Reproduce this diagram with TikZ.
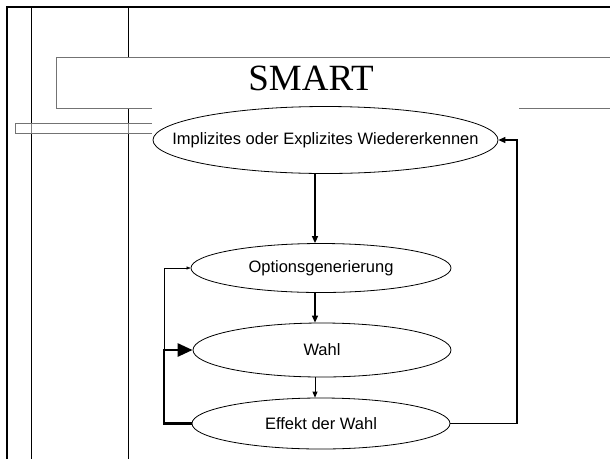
\documentclass[tikz,border=0pt]{standalone}
\usepackage{fontspec}
\setmainfont{Liberation Sans}
\newfontfamily\titelfont{Liberation Serif}
\usetikzlibrary{calc}
\usetikzlibrary{shapes}
\usetikzlibrary{arrows.meta}
\newcommand{\strich}[4]{ \draw[line width=0.9pt] ( #1 , #2 ) -- ( #3 , #4 );}
\newcommand{\phasenode}[6]{\node[shape=ellipse,draw=black,fill=white,line width=0.8pt,inner sep=0pt,minimum width=#5,minimum height=#6,label={[font=\fontsize{16.5}{19}\selectfont]center:#4}] (#1) at ( #2 , #3 ) {};}

\begin{document}
\begin{tikzpicture}[x=1pt,y=-1pt]
        \useasboundingbox (0,0) rectangle (610,459);
        % frame
        \draw[line width=2.5pt] (7,459) -- (7,7) -- (610,7);
        \strich{31}{7}{31}{459}
        \strich{128}{7}{128}{459}
        % title bar
        \draw[draw=black!55,fill=white,line width=1pt] (56,57) rectangle (614,108);
        \draw[draw=black!55,line width=0.8pt,fill=white,fill opacity=0.5] (15,123) rectangle (160,133);
        \fill[white] (152,100) rectangle (519,138);
        \node[font=\titelfont\fontsize{37}{40}\selectfont,anchor=base,inner sep=0pt] (titel) at (311,90) {SMART};
        % phases
        \phasenode{impl}{325.5}{140}{Implizites oder Explizites Wiedererkennen}{345pt}{67pt}
        \phasenode{opt}{321}{268}{Optionsgenerierung}{260pt}{49pt}
        \phasenode{wahl}{322}{350}{Wahl}{258pt}{54pt}
        \phasenode{eff}{321}{423.5}{Effekt der Wahl}{258pt}{51pt}
        % helper columns
        \coordinate (achse) at (315,0);
        \coordinate (links) at (164,0);
        \coordinate (rechts) at (517,0);
        % arrows down
        \draw[line width=1.5pt,-{Triangle[length=7pt,width=6pt]}] (impl.south -| achse) -- (opt.north -| achse);
        \draw[line width=1.2pt,-{Triangle[length=7pt,width=6pt]}] (opt.south -| achse) -- (wahl.north -| achse);
        \draw[line width=0.8pt,-{Triangle[length=6pt,width=5pt]}] (wahl.south -| achse) -- (eff.north -| achse);
        % loops
        \draw[line width=1.3pt,-{Triangle[length=7pt,width=6pt]}] (eff.east) -| (rechts |- impl.east) -- (impl.east);
        \draw[line width=2.8pt,-{Triangle[length=15pt,width=13pt]}] (eff.west) -| (links |- wahl.west) -- (wahl.west);
        \draw[line width=0.5pt,-{Triangle[length=4pt,width=3pt]}] (links |- wahl.west) |- (opt.west);
\end{tikzpicture}
\end{document}
